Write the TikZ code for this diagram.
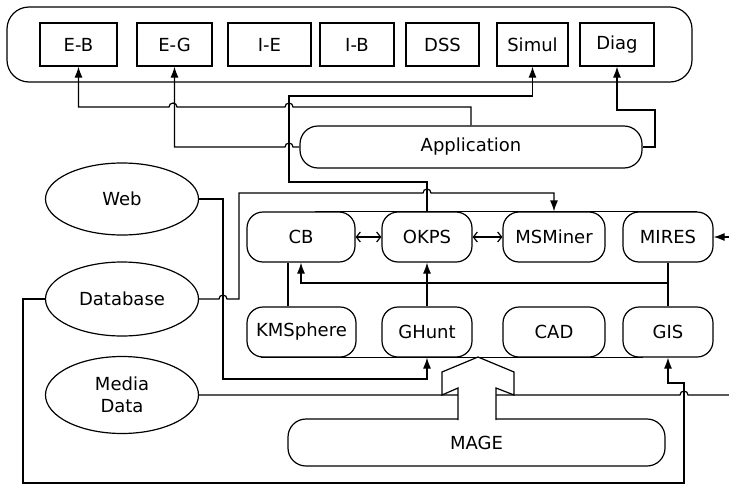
\documentclass[tikz,border=0pt]{standalone}
\usepackage{fontspec}
\setmainfont{DejaVu Sans}
\usepackage{tikz}
\usetikzlibrary{shapes.geometric,arrows.meta,calc}
\tikzset{
  tbox/.style={draw, minimum height=43pt, inner sep=0pt},
  mnode/.style={draw, rounded corners=16pt, minimum height=50pt, inner sep=0pt},
  lnode/.style={draw, rounded corners=18pt, inner sep=0pt},
  dnode/.style={draw, ellipse, minimum width=153pt, inner sep=0pt, align=center},
  into/.style={-{Latex[length=11pt,width=8pt]}},
  from/.style={{Latex[length=11pt,width=8pt]}-},
  both/.style={{Straight Barb[length=4pt,width=10pt]}-{Straight Barb[length=4pt,width=10pt]}}
}
% small jump of a horizontal line over a vertical one
\newcommand\hop[2]{-- (#1-4,#2) arc[start angle=180,end angle=0,radius=4pt]}

\begin{document}
\begin{tikzpicture}[x=1pt, y=-1pt, line width=1.2pt, font=\fontsize{18}{22}\selectfont]
\useasboundingbox (0,0) rectangle (729,485);

% application bar
\node[lnode, rounded corners=22pt, minimum width=685pt, minimum height=75pt] (apps) at (349.5,44.5) {};
\node[tbox, minimum width=77pt] (eb) at (78.5,44.5) {E-B};
\node[tbox, minimum width=75pt] (eg) at (174.5,44.5) {E-G};
\node[tbox, minimum width=83pt] (ie) at (269.5,44.5) {I-E};
\node[tbox, minimum width=74pt] (ib) at (357,44.5) {I-B};
\node[tbox, minimum width=73pt] (dss) at (442.5,44.5) {DSS};
\node[tbox, minimum width=71pt] (simul) at (532.5,44.5) {Simul};
\node[tbox, minimum width=74pt] (diag) at (617,44.5) {Diag};

\node[lnode, minimum width=342pt, minimum height=42pt] (app) at (471,147) {Application};

% sources
\node[dnode, minimum height=72pt] (web) at (122,199) {Web};
\node[dnode, minimum height=74pt] (db) at (122,299) {Database};
\node[dnode, minimum height=77pt] (media) at (122,395) {Media\\Data};

% knowledge modules
\node[mnode, minimum width=108pt] (cb) at (301,237) {CB};
\node[mnode, minimum width=90pt] (okps) at (427,237) {OKPS};
\node[mnode, minimum width=102pt] (msm) at (554,237) {MSMiner};
\node[mnode, minimum width=90pt] (mires) at (668,237) {MIRES};
\node[mnode, minimum width=109pt] (kms) at (301.5,332) {KMSphere};
\node[mnode, minimum width=90pt] (ghunt) at (427,332) {GHunt};
\node[mnode, minimum width=102pt] (cad) at (554,332) {CAD};
\node[mnode, minimum width=90pt] (gis) at (668,332) {GIS};

\node[lnode, minimum width=377pt, minimum height=47pt] (mage) at (476.5,442.5) {MAGE};

\coordinate (mires_in) at (729,237);
\coordinate (media_out) at (729,395);

\draw ([xshift=14pt]cb.north) -- ([xshift=29pt]mires.north);
\draw ([xshift=-41pt]kms.south) -- ([xshift=-25pt]gis.south);

% links to the applications
\draw[from] (eb.south) -- (eb.south |- 0,107) \hop{173}{107} \hop{289}{107} -| (app.north);
\draw[from] (eg.south) -- (eg.south |- 0,147) \hop{289}{147} -- (app.west);
\draw[from] (simul.south) |- (289,96) -- (289,182) -| (okps.north);
\draw[from] (diag.south) |- (655,110) |- (app.east);

% links from the sources
\draw[into] (db.east) \hop{223}{299} -- (239,299) -- (239,193) \hop{427}{193} -| (msm.north);
\draw[into] (web.east) -| (223,379) -| (ghunt.south);
\draw[into] (db.west) -| (23,483) -| (684,383) -| (gis.south);
\draw (media.east) \hop{684}{395} -- (media_out);
\draw[into] (mires_in) -- (mires.east);

% links between modules
\draw[both] (cb.east) -- (okps.west);
\draw[both] (okps.east) -- (msm.west);
\draw (kms.north -| 288,0) -- (cb.south -| 288,0);
\draw (mires.south) -- (gis.north);
\draw[from] (cb.south) |- (668,283);
\draw[into] (ghunt.north) -- (okps.south);

% MAGE feeds the modules
\draw[fill=white] (458,420) -- (458,388) -- (442,395) -- (442,372) -- (478,357)
  -- (514,372) -- (514,395) -- (496,388) -- (496,420);
\end{tikzpicture}
\end{document}
